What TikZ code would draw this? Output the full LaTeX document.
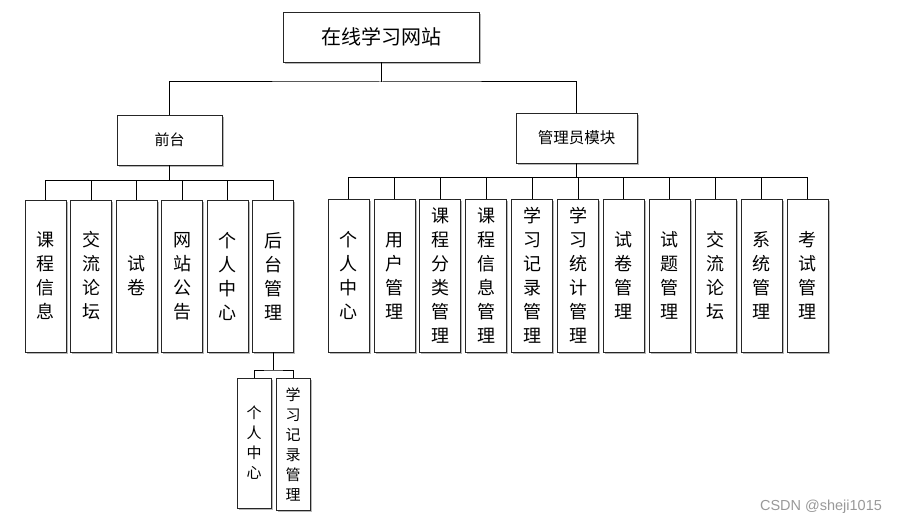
\documentclass[tikz,border=0pt]{standalone}
\usepackage{fontspec}
\setmainfont{Noto Sans CJK SC}
\newfontfamily\wmfont{Liberation Sans}
\usetikzlibrary{shadows}

\begin{document}
\begin{tikzpicture}[x=1pt, y=-1pt,
  box/.style={draw=black!85, line width=0.8pt, fill=white, inner sep=0pt,
    drop shadow={shadow xshift=1.6pt, shadow yshift=-1.6pt, fill=gray!80, opacity=0.7}},
  vbox/.style={box, minimum width=41pt, minimum height=152pt, align=center,
    font=\fontsize{18}{24}\selectfont},
  sbox/.style={box, minimum width=34pt, minimum height=130pt, align=center,
    font=\fontsize{15}{20}\selectfont},
  conn/.style={line width=1pt}]

  \useasboundingbox (0,0) rectangle (898,524);  %Rand

  \node[box, minimum width=196pt, minimum height=50pt, font=\fontsize{20}{24}\selectfont]
    (site) at (381,37) {在线学习网站};  %Wurzel
  \node[box, minimum width=105pt, minimum height=50pt, font=\fontsize{15}{18}\selectfont]
    (front) at (169.5,140) {前台};
  \node[box, minimum width=121pt, minimum height=50pt, font=\fontsize{15.5}{18}\selectfont]
    (admin) at (576.5,138) {管理员模块};

  \coordinate (topbus) at (381,82);
  \draw[conn] (site.south) -- (topbus);
  \draw[conn] (front.north) |- (topbus) -| (admin.north);

  \foreach \t [count=\i] in {课\\程\\信\\息, 交\\流\\论\\坛, 试\\卷,
                             网\\站\\公\\告, 个\\人\\中\\心, 后\\台\\管\\理}
    \node[vbox] (f\i) at (45.5+45.5*\i-45.5,276) {\t};  %Vordergrund
  \coordinate (fbus) at (169.5,181);
  \draw[conn] (front.south) -- (fbus);
  \foreach \i in {1,...,6}
    \draw[conn] (f\i.north) |- (fbus);

  \foreach \t [count=\i] in {个\\人\\中\\心, 用\\户\\管\\理, 课\\程\\分\\类\\管\\理,
                             课\\程\\信\\息\\管\\理, 学\\习\\记\\录\\管\\理,
                             学\\习\\统\\计\\管\\理, 试\\卷\\管\\理, 试\\题\\管\\理,
                             交\\流\\论\\坛, 系\\统\\管\\理, 考\\试\\管\\理}
    \node[vbox, minimum height=153pt] (a\i) at (348.5+45.9*\i-45.9,275.5) {\t};  %Verwaltung
  \coordinate (abus) at (576.5,178);
  \draw[conn] (admin.south) -- (abus);
  \foreach \i in {1,...,11}
    \draw[conn] (a\i.north) |- (abus);

  \node[sbox] (b1) at (254,443) {个\\人\\中\\心};  %Hintergrund
  \node[sbox, minimum height=132pt] (b2) at (293,444) {学\\习\\记\\录\\管\\理};
  \coordinate (bbus) at (273,370);
  \draw[conn] (f6.south) -- (bbus);
  \draw[conn] (b1.north) |- (bbus) -| (b2.north);

  \node[text=gray!80, font=\wmfont\fontsize{14.5}{16}\selectfont] (wm) at (821,507) {CSDN @sheji1015};  %Wasserzeichen
\end{tikzpicture}
\end{document}
